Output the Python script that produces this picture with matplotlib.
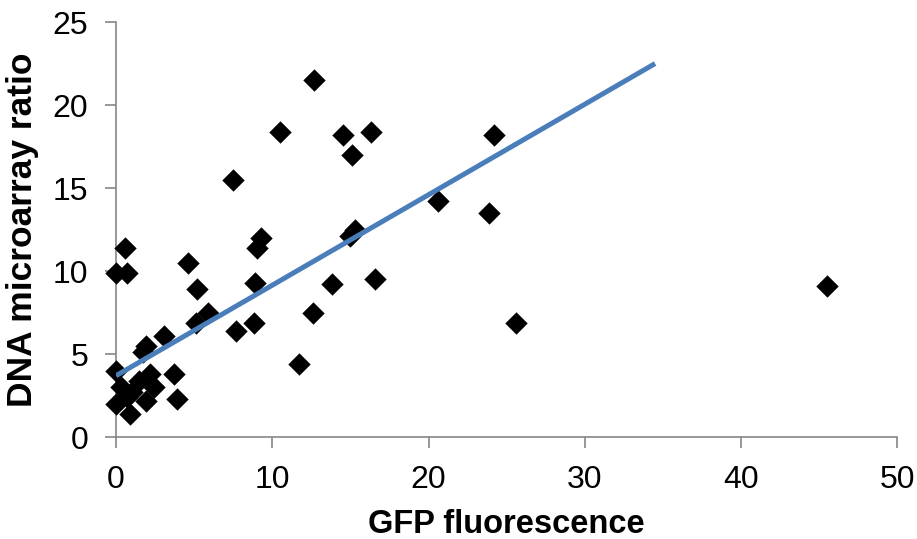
import numpy as np
import matplotlib
matplotlib.use('Agg')
import matplotlib.pyplot as plt

plt.rcParams['font.family'] = ['Liberation Sans', 'DejaVu Sans']

# GFP fluorescence vs DNA microarray ratio
gfp = [45.5, 25.6, 24.2, 23.9, 20.6, 12.7, 10.5, 14.5, 16.3, 15.1,
       7.5, 15.3, 15.0, 16.6, 13.8, 12.6, 11.7, 9.3, 9.0, 8.9,
       8.8, 7.7, 5.2, 4.6, 5.9, 5.1, 0.6, 0.0, 0.7, 3.1,
       1.9, 1.7, 0.0, 3.7, 2.2, 1.5, 0.3, 2.4, 3.9, 0.0,
       0.9, 1.9, 0.7, 1.0]
ratio = [9.1, 6.9, 18.2, 13.5, 14.2, 21.5, 18.4, 18.2, 18.4, 17.0,
         15.5, 12.5, 12.1, 9.5, 9.2, 7.5, 4.4, 12.0, 11.4, 9.3,
         6.9, 6.4, 8.9, 10.5, 7.5, 6.9, 11.4, 9.9, 9.9, 6.1,
         5.5, 5.1, 4.0, 3.8, 3.8, 3.4, 3.0, 3.0, 2.3, 2.0,
         1.4, 2.2, 2.4, 2.7]

# trendline as drawn in the original
trend_x = [0, 34.5]
trend_slope = 0.545
trend_icpt = 3.7

fig = plt.figure(figsize=(9.17, 5.39), dpi=100)
ax = fig.add_axes([0.1265, 0.189, 0.852, 0.770])

ax.scatter(gfp, ratio, marker='D', s=130, color='black', linewidths=0,
           zorder=3, clip_on=False)
tx = np.array(trend_x)
ax.plot(tx, trend_icpt + trend_slope * tx, color='#4A7EBB', linewidth=3.6,
        solid_capstyle='butt', zorder=4)

ax.set_xlim(0, 50)
ax.set_ylim(0, 25)
ax.set_xticks(range(0, 51, 10))
ax.set_yticks(range(0, 26, 5))

for s in ['top', 'right']:
    ax.spines[s].set_visible(False)
for s in ['left', 'bottom']:
    ax.spines[s].set_color('#868686')
    ax.spines[s].set_linewidth(1.2)
    ax.spines[s].set_zorder(1)
ax.tick_params(axis='both', direction='out', length=8, width=1.2,
               color='#868686', labelsize=23, labelcolor='black', pad=12)

ax.set_xlabel('GFP fluorescence', fontsize=23.5, fontweight='bold', labelpad=10)
ax.set_ylabel('DNA microarray ratio', fontsize=25.5, fontweight='bold', labelpad=10)

plt.savefig('out.png', dpi=100)
plt.close()
